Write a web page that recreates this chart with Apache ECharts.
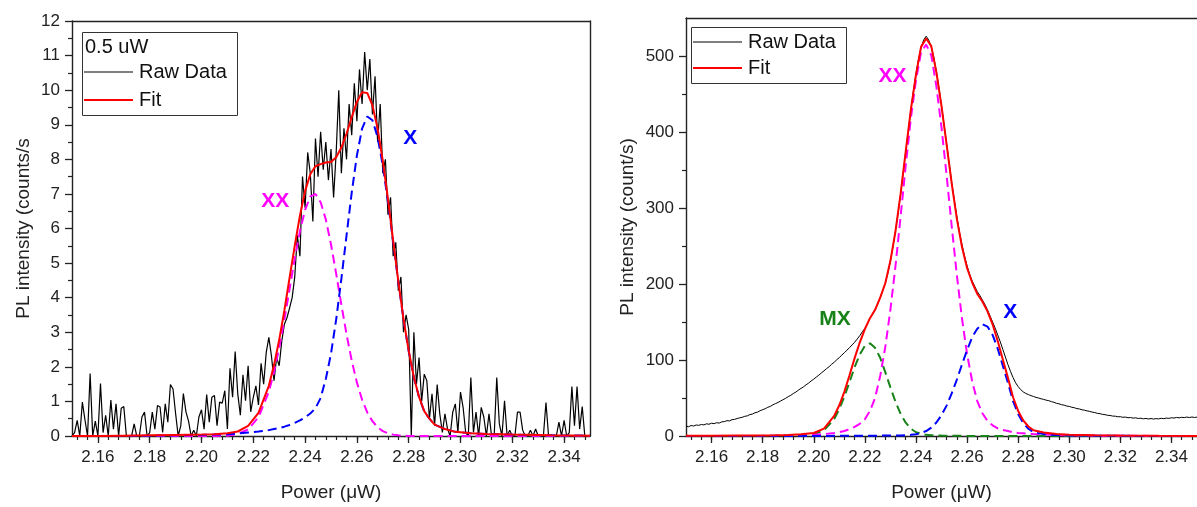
<!DOCTYPE html>
<html>
<head>
<meta charset="utf-8">
<script src="https://cdn.jsdelivr.net/npm/echarts@6/dist/echarts.min.js"></script>
<style>
html,body{margin:0;padding:0;background:#fff;}
#c{width:1197px;height:507px;}
</style>
</head>
<body>
<div id="c"></div>
<script>
const FONT = '"Liberation Sans", Arial, Helvetica, sans-serif';

// ---------- Left panel (0.5 uW) ----------
const leftRawStart = 2.150; // first sample, step 0.001
const leftRaw = [
  0.0, 0.1, 0.45, 0.0, 0.98, 0.47, 0.0, 1.81, 0.0, 0.43,
  0.0, 1.52, 0.1, 0.6, 0.0, 1.04, 0.2, 0.93, 0.0, 0.8,
  0.85, 0.0, 0.0, 0.0, 0.35, 0.0, 0.0, 0.55, 0.69, 0.0,
  0.1, 0.69, 0.2, 0.88, 0.84, 0.1, 0.93, 0.4, 1.49, 1.36,
  0.65, 0.0, 0.3, 1.23, 0.7, 0.43, 0.0, 0.17, 0.0, 0.55,
  0.76, 0.2, 1.2, 0.4, 1.12, 1.17, 0.3, 0.98, 0.95, 1.31,
  0.2, 1.96, 1.12, 2.44, 1.22, 0.6, 1.77, 1.02, 2.03, 0.7,
  1.12, 1.45, 0.9, 2.1, 1.5, 2.42, 2.85, 2.32, 1.6, 2.27,
  2.03, 2.75, 3.23, 3.42, 3.7, 4.0, 4.6, 5.8, 5.2, 7.5,
  6.6, 8.2, 7.6, 6.2, 8.6, 7.5, 8.8, 7.7, 8.5, 7.4,
  8.3, 6.9, 8.2, 10.0, 7.6, 8.9, 8.0, 9.6, 8.7, 10.2,
  9.1, 10.6, 9.6, 11.1, 10.0, 10.9, 9.3, 10.4, 8.5, 9.6,
  7.6, 8.0, 6.4, 6.9, 5.2, 5.6, 4.2, 4.6, 3.0, 3.5,
  3.08, 0.0, 3.0, 1.5, 2.27, 1.0, 1.79, 1.6, 0.5, 1.22,
  0.3, 1.49, 0.64, 0.1, 0.64, 0.2, 0.0, 0.69, 0.93, 0.1,
  1.27, 0.83, 0.1, 0.0, 1.69, 0.1, 0.69, 0.0, 0.83, 0.55,
  0.0, 0.64, 0.0, 0.0, 1.69, 0.35, 0.0, 1.02, 0.0, 0.17,
  0.0, 0.0, 0.69, 0.69, 0.17, 0.0, 0.0, 0.17, 0.0, 0.2,
  0.0, 0.0, 0.0, 0.97, 0.0, 0.0, 0.0, 0.0, 0.4, 0.0,
  0.45, 0.0, 0.1, 1.43, 0.3, 1.43, 0.2, 0.85, 0.0, 0.0,
  0.0
];
const leftFitX = [2.150, 2.160, 2.170, 2.180, 2.190, 2.200, 2.205, 2.210, 2.214, 2.218, 2.222, 2.226,
  2.228, 2.230, 2.232, 2.234, 2.236, 2.238, 2.240, 2.242, 2.244, 2.246, 2.248, 2.250, 2.252, 2.254,
  2.256, 2.258, 2.260, 2.262, 2.264, 2.266, 2.268, 2.270, 2.272, 2.274, 2.276, 2.278, 2.280, 2.282,
  2.284, 2.286, 2.288, 2.290, 2.294, 2.298, 2.304, 2.310, 2.320, 2.335, 2.350];
const leftFit = [0.0, 0.0, 0.01, 0.02, 0.03, 0.04, 0.05, 0.08, 0.13, 0.29, 0.67, 1.45,
  2.05, 2.78, 3.63, 4.57, 5.5, 6.37, 7.08, 7.57, 7.8, 7.86, 7.91, 7.92, 8.06, 8.34,
  8.74, 9.22, 9.66, 9.94, 9.92, 9.56, 8.89, 7.96, 6.85, 5.65, 4.47, 3.38, 2.47, 1.7,
  1.13, 0.72, 0.5, 0.33, 0.2, 0.12, 0.08, 0.06, 0.04, 0.02, 0.01];
const leftXX = [0, 0, 0, 0, 0, 0, 0, 0.01, 0.06, 0.19, 0.54, 1.28,
  1.85, 2.55, 3.36, 4.25, 5.12, 5.92, 6.54, 6.92, 7.0, 6.76, 6.26, 5.54, 4.69, 3.8,
  2.94, 2.18, 1.55, 1.05, 0.68, 0.43, 0.25, 0.14, 0.08, 0.04, 0.02, 0.01, 0, 0,
  0, 0, 0, 0, 0, 0, 0, 0, 0, 0, 0];
const leftX = [0, 0, 0, 0.01, 0.02, 0.03, 0.04, 0.05, 0.07, 0.1, 0.13, 0.17,
  0.2, 0.23, 0.27, 0.32, 0.38, 0.45, 0.54, 0.65, 0.8, 1.1, 1.65, 2.38, 3.37, 4.54,
  5.8, 7.04, 8.11, 8.89, 9.24, 9.13, 8.64, 7.82, 6.77, 5.61, 4.45, 3.37, 2.45, 1.69,
  1.12, 0.71, 0.5, 0.33, 0.2, 0.12, 0.08, 0.06, 0.04, 0.02, 0.01];
const leftAnnotations = [
  { text: 'XX', x: 2.2285, y: 6.78, kind: 'XX' },
  { text: 'X', x: 2.2806, y: 8.61, kind: 'X' }
];

// ---------- Right panel ----------
const rightRawStart = 2.150; // step 0.001
const rightRaw = [
  13.0, 12.2, 13.8, 13.1, 14.5, 14.0, 15.2, 14.6, 16.0, 15.5,
  16.8, 16.2, 17.5, 17.0, 18.6, 18.9, 20.2, 19.8, 21.5, 21.8,
  23.0, 23.9, 24.6, 25.9, 26.5, 28.2, 28.9, 30.6, 31.4, 33.3,
  34.6, 35.9, 37.8, 38.9, 41.0, 42.6, 44.1, 46.0, 47.8, 49.6,
  51.8, 53.5, 55.9, 57.8, 60.4, 62.6, 64.7, 67.4, 69.6, 72.5,
  74.8, 77.6, 80.1, 83.0, 85.7, 88.6, 91.2, 94.4, 97.1, 100.3,
  103.2, 106.5, 109.6, 113.0, 116.2, 119.8, 123.4, 127.5, 132.0, 137.0,
  141.5, 148, 155, 160, 166, 173, 182, 191, 201, 214,
  230, 249, 270, 293, 318, 346, 374, 402, 429, 454,
  476, 496, 511, 521, 526, 521, 512, 498, 480, 458,
  435, 410, 385, 359, 334, 311, 289, 269, 252, 237,
  224, 213, 204, 197, 190, 185, 179, 173, 166, 158,
  150, 142, 133, 124, 114, 104, 94, 85, 77, 70,
  65, 61, 58, 56, 54.5, 53.2, 52.0, 50.8, 50.0, 48.9,
  48.2, 47.1, 46.5, 45.2, 44.4, 43.0, 42.3, 41.2, 40.6, 39.4,
  38.9, 37.8, 37.2, 36.0, 35.6, 34.5, 33.9, 33.0, 32.4, 31.4,
  30.9, 29.8, 29.4, 28.5, 28.1, 27.2, 27.0, 26.2, 26.1, 25.3,
  25.4, 24.6, 24.9, 24.0, 24.3, 23.5, 23.9, 23.1, 23.4, 22.6,
  23.1, 22.4, 23.0, 22.3, 22.9, 22.5, 23.3, 22.8, 23.6, 23.2,
  24.0, 23.6, 24.4, 23.9, 24.6, 24.2, 24.9, 24.3, 25.0, 24.4,
  24.8
];
const rightFitX = [2.150, 2.160, 2.170, 2.180, 2.185, 2.190, 2.195, 2.200, 2.204, 2.208,
  2.210, 2.212, 2.214, 2.216, 2.218, 2.220, 2.222, 2.224, 2.226, 2.228,
  2.230, 2.232, 2.234, 2.236, 2.238, 2.240, 2.242, 2.244, 2.246, 2.248,
  2.250, 2.252, 2.254, 2.256, 2.258, 2.260, 2.262, 2.264, 2.266, 2.268,
  2.270, 2.272, 2.274, 2.276, 2.278, 2.280, 2.282, 2.284, 2.286,
  2.290, 2.295, 2.300, 2.310, 2.320, 2.335, 2.350];
const rightFit = [0.3, 0.4, 0.5, 0.7, 0.9, 1.2, 2.2, 4, 9.8, 26.4,
  40.4, 58.5, 80, 102.5, 123, 140.5, 155, 166, 182, 201,
  230.5, 269.6, 318.8, 374.5, 429, 475, 512, 523, 513, 478.5,
  434, 383.4, 332, 286, 249, 221, 202, 187, 177, 164,
  147, 125, 100.6, 76.5, 51, 33, 20.5, 12.5, 7.5,
  4.5, 2.7, 1.8, 0.9, 0.5, 0.2, 0.1];
const rightMX = [0, 0, 0, 0.2, 0.4, 0.7, 1.2, 2.5, 7.3, 22.4,
  35.4, 52, 71, 90.5, 107, 118.5, 122, 116, 103, 84,
  64, 45, 29, 17.5, 9.7, 5, 3, 1.5, 1, 0.7,
  0.5, 0.4, 0.3, 0.2, 0.2, 0.1, 0.1, 0.1, 0, 0,
  0, 0, 0, 0, 0, 0, 0, 0, 0,
  0, 0, 0, 0, 0, 0, 0];
const rightXX = [0, 0, 0, 0, 0.3, 0.5, 1, 1.5, 2.5, 4,
  5, 6.5, 9, 12, 16, 22, 33, 50, 79, 117,
  166, 224, 289, 356, 418, 468, 505, 515, 501, 460,
  406, 343, 276, 212, 155, 108, 72, 46, 30, 20,
  14, 10, 8, 6.5, 5, 4, 3.5, 3, 2.5,
  2, 1.5, 1, 0.5, 0.3, 0.1, 0];
const rightX = [0, 0, 0, 0, 0, 0, 0, 0, 0.1, 0.2,
  0.2, 0.2, 0.3, 0.3, 0.3, 0.4, 0.4, 0.4, 0.5, 0.5,
  0.5, 0.6, 0.8, 1, 1.5, 2.3, 4, 6.5, 11, 17.8,
  27.4, 40, 56, 74, 94, 113, 130, 141, 147, 144,
  133, 115, 92.6, 70, 46, 29, 17, 9.5, 5,
  2.5, 1.2, 0.8, 0.4, 0.2, 0.1, 0];
const rightAnnotations = [
  { text: 'XX', x: 2.2308, y: 473, kind: 'XX' },
  { text: 'MX', x: 2.2083, y: 153.6, kind: 'MX' },
  { text: 'X', x: 2.2769, y: 162.8, kind: 'X' }
];

// ---------- Ticks ----------
const xMajorTicks = [2.16, 2.18, 2.20, 2.22, 2.24, 2.26, 2.28, 2.30, 2.32, 2.34];
const xMinorTicks = [];
for (let k = 0; k < 50; k++) xMinorTicks.push((2152 + 4 * k) / 1000);
const leftYTicks = [0, 1, 2, 3, 4, 5, 6, 7, 8, 9, 10, 11, 12];
const rightYTicks = [0, 100, 200, 300, 400, 500];
const rightYMinorTicks = [50, 150, 250, 350, 450];

// ---------- helpers ----------
const AX = '#222';
const COLORS = { raw: '#000000', fit: '#ff0000', XX: '#ff00ff', X: '#0000ff', MX: '#178217' };
const pairs = (xs, ys) => xs.map((x, i) => [x, ys[i]]);
const rawPairs = (start, ys) => ys.map((y, i) => [(Math.round(start * 1000) + i) / 1000, y]);

function mainX(g) {
  return {
    type: 'value', gridIndex: g, position: 'bottom', min: 2.15, max: 2.35,
    axisLine: { show: true, onZero: false, lineStyle: { color: AX, width: 1.4 } },
    axisTick: { show: true, customValues: xMajorTicks, length: 7, lineStyle: { color: AX, width: 1.3 } },
    axisLabel: { customValues: xMajorTicks, formatter: v => v.toFixed(2), fontSize: 17, color: AX, fontFamily: FONT, margin: 13 },
    splitLine: { show: false },
    name: 'Power (\u03BCW)', nameLocation: 'middle', nameGap: 47,
    nameTextStyle: { fontSize: 19, color: AX, fontFamily: FONT }
  };
}
function minorX(g) {
  return {
    type: 'value', gridIndex: g, position: 'bottom', min: 2.15, max: 2.35,
    axisLine: { show: false, onZero: false },
    axisTick: { show: true, customValues: xMinorTicks, length: 4, lineStyle: { color: AX, width: 1.2 } },
    axisLabel: { show: false }, splitLine: { show: false }
  };
}
function frameX(g) {
  return {
    type: 'value', gridIndex: g, position: 'top', min: 2.15, max: 2.35,
    axisLine: { show: true, onZero: false, lineStyle: { color: AX, width: 1.4 } },
    axisTick: { show: false }, axisLabel: { show: false }, splitLine: { show: false }
  };
}
function lineSeries(name, data, xi, yi, color, width, dashed, z) {
  return {
    name, type: 'line', xAxisIndex: xi, yAxisIndex: yi, data,
    showSymbol: false, symbol: 'none', smooth: false, z,
    lineStyle: { color, width, type: dashed ? [9, 5] : 'solid' },
    emphasis: { disabled: true }, animation: false
  };
}
function annSeries(list, xi, yi) {
  return list.map(a => ({
    type: 'scatter', xAxisIndex: xi, yAxisIndex: yi, symbolSize: 0, z: 10,
    data: [[a.x, a.y]], silent: true, animation: false,
    itemStyle: { opacity: 1, color: COLORS[a.kind] },
    emphasis: { disabled: true },
    label: { show: true, position: 'inside', formatter: a.text, fontSize: 21, fontWeight: 'bold',
      fontFamily: FONT, color: COLORS[a.kind], opacity: 1 }
  }));
}

const chart = echarts.init(document.getElementById('c'), null, { renderer: 'canvas' });

const option = {
  animation: false,
  backgroundColor: '#ffffff',
  grid: [
    { left: 72, top: 21, width: 518, height: 418, containLabel: false },
    { left: 686, top: 18, width: 520, height: 419, containLabel: false }
  ],
  xAxis: [mainX(0), minorX(0), frameX(0), mainX(1), minorX(1), frameX(1)],
  yAxis: [
    {
      type: 'value', gridIndex: 0, position: 'left', min: 0, max: 12, interval: 1,
      axisLine: { show: true, onZero: false, lineStyle: { color: AX, width: 1.4 } },
      axisTick: { show: true, length: 7, lineStyle: { color: AX, width: 1.3 } },
      minorTick: { show: true, splitNumber: 2, length: 4, lineStyle: { color: AX, width: 1.2 } },
      axisLabel: { fontSize: 17, color: AX, fontFamily: FONT, margin: 12 },
      splitLine: { show: false }, minorSplitLine: { show: false },
      name: 'PL intensity (counts/s', nameLocation: 'middle', nameGap: 39,
      nameTextStyle: { fontSize: 19, color: AX, fontFamily: FONT }
    },
    {
      type: 'value', gridIndex: 0, position: 'right', min: 0, max: 12,
      axisLine: { show: true, onZero: false, lineStyle: { color: AX, width: 1.4 } },
      axisTick: { show: false }, axisLabel: { show: false }, splitLine: { show: false }
    },
    {
      type: 'value', gridIndex: 1, position: 'left', min: 0, max: 550,
      axisLine: { show: true, onZero: false, lineStyle: { color: AX, width: 1.4 } },
      axisTick: { show: true, customValues: rightYTicks, length: 7, lineStyle: { color: AX, width: 1.3 } },
      axisLabel: { customValues: rightYTicks, fontSize: 17, color: AX, fontFamily: FONT, margin: 12 },
      splitLine: { show: false },
      name: 'PL intensity (count/s)', nameLocation: 'middle', nameGap: 49,
      nameTextStyle: { fontSize: 19, color: AX, fontFamily: FONT }
    },
    {
      type: 'value', gridIndex: 1, position: 'left', min: 0, max: 550,
      axisLine: { show: false, onZero: false },
      axisTick: { show: true, customValues: rightYMinorTicks, length: 4, lineStyle: { color: AX, width: 1.2 } },
      axisLabel: { show: false }, splitLine: { show: false }
    }
  ],
  series: [
    lineSeries('Raw Data', rawPairs(leftRawStart, leftRaw), 0, 0, COLORS.raw, 1.2, false, 2),
    lineSeries('XX', pairs(leftFitX, leftXX), 0, 0, COLORS.XX, 2, true, 3),
    lineSeries('X', pairs(leftFitX, leftX), 0, 0, COLORS.X, 2, true, 3),
    lineSeries('Fit', pairs(leftFitX, leftFit), 0, 0, COLORS.fit, 2, false, 4),
    lineSeries('Raw Data', rawPairs(rightRawStart, rightRaw), 3, 2, COLORS.raw, 1, false, 2),
    lineSeries('MX', pairs(rightFitX, rightMX), 3, 2, COLORS.MX, 2, true, 3),
    lineSeries('XX', pairs(rightFitX, rightXX), 3, 2, COLORS.XX, 2, true, 3),
    lineSeries('X', pairs(rightFitX, rightX), 3, 2, COLORS.X, 2, true, 3),
    lineSeries('Fit', pairs(rightFitX, rightFit), 3, 2, COLORS.fit, 2, false, 4),
    ...annSeries(leftAnnotations, 0, 0),
    ...annSeries(rightAnnotations, 3, 2)
  ],
  graphic: [
    // left legend box
    { type: 'rect', left: 82, top: 32, z: 50, shape: { width: 155, height: 83 },
      style: { fill: '#fff', stroke: '#333', lineWidth: 1 } },
    { type: 'text', x: 85, y: 47, z: 51, style: { text: '0.5 uW', fontSize: 20, fontFamily: FONT, fill: '#111', verticalAlign: 'middle' } },
    { type: 'line', z: 51, shape: { x1: 84, y1: 72, x2: 133, y2: 72 }, style: { stroke: '#000', lineWidth: 1.2 } },
    { type: 'text', x: 139, y: 72, z: 51, style: { text: 'Raw Data', fontSize: 20, fontFamily: FONT, fill: '#111', verticalAlign: 'middle' } },
    { type: 'line', z: 51, shape: { x1: 84, y1: 100, x2: 133, y2: 100 }, style: { stroke: '#ff0000', lineWidth: 2 } },
    { type: 'text', x: 139, y: 100, z: 51, style: { text: 'Fit', fontSize: 20, fontFamily: FONT, fill: '#111', verticalAlign: 'middle' } },
    // right legend box
    { type: 'rect', left: 691, top: 27, z: 50, shape: { width: 155, height: 56 },
      style: { fill: '#fff', stroke: '#333', lineWidth: 1 } },
    { type: 'line', z: 51, shape: { x1: 693, y1: 42, x2: 742, y2: 42 }, style: { stroke: '#000', lineWidth: 1.2 } },
    { type: 'text', x: 748, y: 42, z: 51, style: { text: 'Raw Data', fontSize: 20, fontFamily: FONT, fill: '#111', verticalAlign: 'middle' } },
    { type: 'line', z: 51, shape: { x1: 693, y1: 68, x2: 742, y2: 68 }, style: { stroke: '#ff0000', lineWidth: 2 } },
    { type: 'text', x: 748, y: 68, z: 51, style: { text: 'Fit', fontSize: 20, fontFamily: FONT, fill: '#111', verticalAlign: 'middle' } }
  ]
};
chart.setOption(option);
</script>
</body>
</html>
